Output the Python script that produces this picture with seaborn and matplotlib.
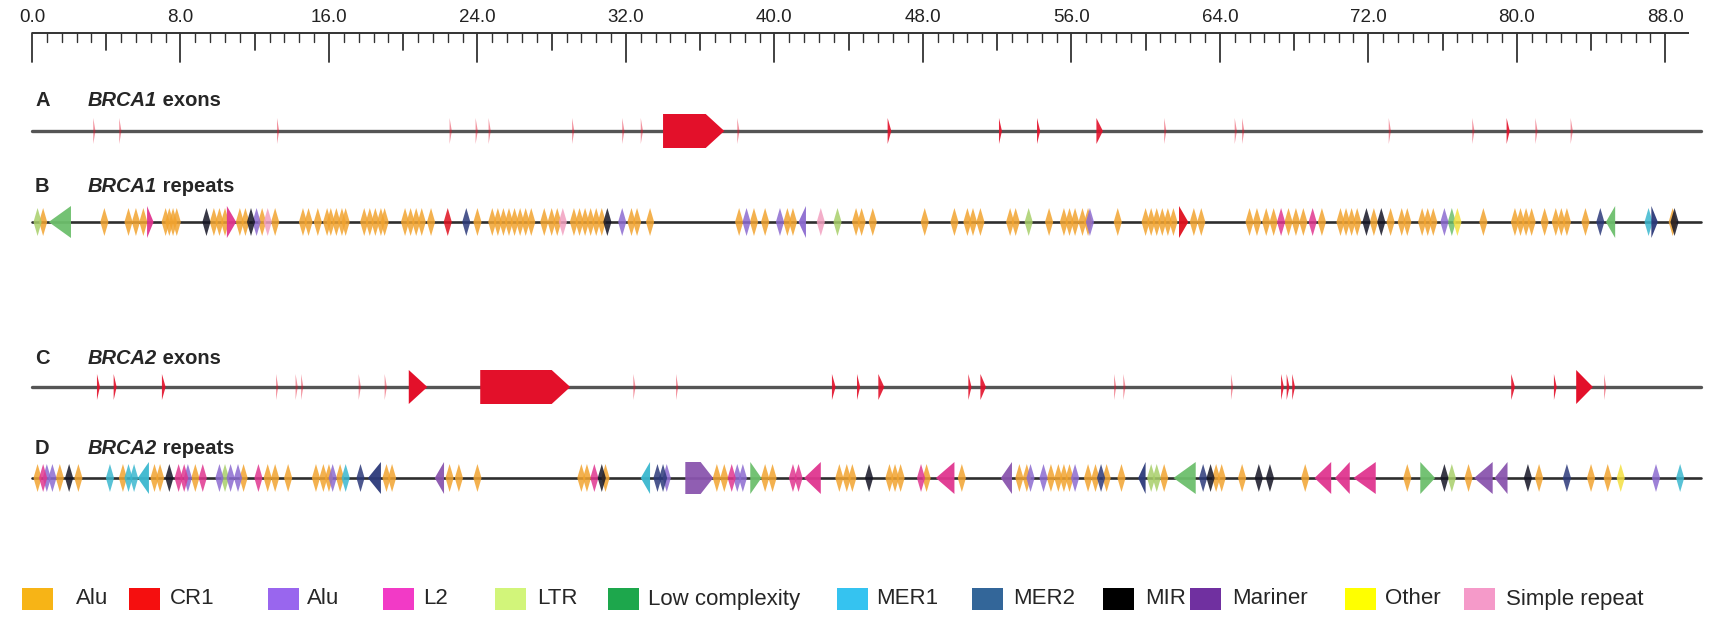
import numpy as np
import pandas as pd
import matplotlib
matplotlib.use('Agg')
import matplotlib.pyplot as plt
from matplotlib.patches import Polygon, Rectangle
import seaborn as sns

sns.set_theme(style='white')
plt.rcParams['font.family'] = ['Liberation Sans', 'DejaVu Sans']

# ---------------- ruler / gene region (kb) ----------------
RULER_END = 89.3
TRACK_END = 89.9
RULER_LABELS = np.arange(0, 88.1, 8.0)

# ---------------- exons (kb) ----------------
A_EXON_START = [3.3, 4.7, 13.2, 22.5, 23.9, 24.6, 29.1, 31.8, 32.8, 34.0, 38.0, 46.1, 52.1, 54.15,
                57.35, 61.0, 64.8, 65.2, 73.1, 77.6, 79.45, 81.0, 82.9]
A_EXON_END = [3.42, 4.82, 13.32, 22.62, 24.02, 24.72, 29.22, 31.92, 32.92, 37.3, 38.12, 46.3, 52.26, 54.32,
              57.7, 61.12, 64.92, 65.32, 73.22, 77.72, 79.62, 81.12, 83.02]

C_EXON_START = [3.5, 4.4, 7.0, 13.15, 14.2, 14.5, 17.6, 19.0, 20.3, 24.15, 32.4, 34.7, 43.1, 44.45,
                45.6, 50.45, 51.1, 58.3, 58.8, 64.6, 67.3, 67.6, 67.9, 79.7, 82.0, 83.2, 84.7]
C_EXON_END = [3.66, 4.56, 7.2, 13.27, 14.32, 14.62, 17.72, 19.12, 21.3, 29.0, 32.52, 34.82, 43.3, 44.62,
              45.92, 50.62, 51.4, 58.42, 58.92, 64.72, 67.45, 67.75, 68.05, 79.9, 82.15, 84.1, 84.82]

# ---------------- BRCA1 repeats (kb) ----------------
B_ALU = [0.6, 3.9, 5.2, 5.6, 6.0, 7.2, 7.4, 7.6, 7.8, 9.8, 10.1, 10.4, 11.2, 11.5, 12.4, 13.1, 14.6, 14.9,
         15.4, 15.9, 16.1, 16.4, 16.7, 16.9, 17.9, 18.2, 18.5, 18.8, 19.0, 20.1, 20.4, 20.7, 21.0, 21.5,
         24.0, 24.8, 25.1, 25.4, 25.7, 26.0, 26.3, 26.6, 26.9, 27.6, 28.0, 28.3, 29.2, 29.5, 29.8, 30.1,
         30.4, 30.7, 32.3, 32.6, 33.3, 38.1, 38.9, 39.5, 40.7, 41.0, 44.4, 44.7, 45.3, 48.1, 49.7, 50.4,
         50.7, 51.1, 52.7, 53.0, 54.8, 55.6, 55.9, 56.2, 56.6, 56.9, 58.5, 60.0, 60.3, 60.6, 60.9, 61.2,
         61.5, 62.6, 63.0, 65.6, 66.0, 66.5, 66.9, 67.7, 68.1, 68.5, 69.5, 70.5, 70.8, 71.1, 71.4, 72.3,
         73.2, 73.8, 74.1, 74.9, 75.2, 75.5, 78.2, 79.9, 80.2, 80.5, 80.8, 81.5, 82.1, 82.4, 82.7, 83.7,
         88.4]
B_ALU2 = [12.1, 31.8, 38.5, 40.3, 57.0, 76.1]
B_MIR = [9.4, 11.8, 31.0, 71.9, 72.7, 88.5]
B_MER2 = [23.4, 84.5]
B_MER1 = [87.1]
B_L2 = [67.3, 69.0]
B_CR1 = [22.4]
B_SIMPLE = [12.7, 28.6, 42.5]
B_LTR = [0.3, 43.4, 53.7]
B_OTHER = [76.8]
B_LOWC = [76.5]

B_BIG_START = [0.9, 6.2, 10.5, 41.3, 61.8, 84.8, 87.25]
B_BIG_END = [2.1, 6.55, 11.0, 41.7, 62.3, 85.3, 87.6]
B_BIG_TYPE = ['Low complexity', 'L2', 'L2', 'Alu2', 'CR1', 'Low complexity', 'MER2']
B_BIG_DIR = [-1, 1, 1, -1, 1, -1, 1]

# ---------------- BRCA2 repeats (kb) ----------------
D_ALU = [0.3, 1.5, 2.5, 4.9, 6.6, 6.9, 8.8, 11.4, 12.7, 13.1, 13.8, 15.3, 15.7, 16.0, 16.6, 19.1, 19.4,
         22.5, 23.0, 24.0, 29.6, 29.9, 30.9, 36.9, 37.3, 39.5, 39.9, 43.5, 43.9, 44.2, 46.2, 46.5, 46.8,
         48.2, 50.1, 53.2, 53.6, 54.9, 55.3, 55.6, 55.9, 56.9, 57.3, 57.9, 58.7, 61.0, 63.8, 64.1, 65.2,
         68.6, 74.1, 77.4, 81.2, 84.0, 84.9]
D_ALU2 = [0.8, 1.1, 8.4, 10.1, 10.7, 11.1, 16.2, 34.2, 38.0, 38.3, 53.8, 54.5, 56.2, 87.5]
D_L2 = [0.6, 7.9, 8.2, 9.2, 12.2, 30.3, 37.7, 41.0, 41.3, 47.9]
D_MIR = [2.0, 7.4, 30.7, 45.1, 63.5, 66.1, 66.7, 76.1, 80.6]
D_MER2 = [17.7, 33.7, 34.0, 57.6, 63.1, 82.7]
D_MER1 = [4.2, 5.2, 5.5, 16.9, 88.8]
D_LTR = [10.4, 60.3, 60.6, 76.5]
D_OTHER = [85.6]

D_BIG_START = [5.7, 18.1, 21.7, 32.8, 35.2, 38.7, 41.6, 48.7, 52.2, 59.6, 61.5, 69.1, 70.2, 71.2, 74.8, 77.7, 78.8]
D_BIG_END = [6.3, 18.8, 22.2, 33.3, 36.7, 39.3, 42.5, 49.7, 52.8, 60.0, 62.7, 70.0, 71.0, 72.4, 75.6, 78.7, 79.5]
D_BIG_TYPE = ['MER1', 'MER2', 'Mariner', 'MER1', 'Mariner', 'Low complexity', 'L2', 'L2', 'Mariner', 'MER2',
              'Low complexity', 'L2', 'L2', 'L2', 'Low complexity', 'Mariner', 'Mariner']
D_BIG_DIR = [-1, -1, -1, -1, 1, 1, -1, -1, -1, -1, -1, -1, -1, -1, 1, -1, -1]

# ---------------- legend ----------------
LEGEND_KEYS = ['Alu', 'CR1', 'Alu2', 'L2', 'LTR', 'Low complexity', 'MER1', 'MER2', 'MIR', 'Mariner', 'Other', 'Simple repeat']
LEGEND_LABELS = ['Alu', 'CR1', 'Alu', 'L2', 'LTR', 'Low complexity', 'MER1', 'MER2', 'MIR', 'Mariner', 'Other', 'Simple repeat']
LEGEND_COLORS = sns.color_palette(['#F7B416', '#F50F0F', '#9966EE', '#F23AC6', '#D2F57A', '#1DA74C',
                                   '#35C3F0', '#336699', '#000000', '#7030A0', '#FFFF00', '#F59AC9'])
# colours as they look on the (blurred) tracks
TRACK_COLORS = dict(zip(LEGEND_KEYS, sns.color_palette(['#F2A430', '#E0101E', '#8C6BD0', '#E0368F', '#A8CF6A', '#6DBF6C',
                                                        '#3BB8CF', '#2C3A7A', '#151525', '#8A55AE', '#F4E040', '#F2A0C0'])))

# ---------------- layout (pixels) ----------------
W, H = 1717, 617
X0_PX, PX_PER_KB = 32, 18.56
RULER_Y = 33
TRACK_Y = {'A': 131, 'B': 222, 'C': 387, 'D': 478}
LABEL_Y = {'A': 101, 'B': 186, 'C': 358, 'D': 448}
LEGEND_Y = 599
LEGEND_SQ_X = [22, 129, 268, 383, 495, 608, 837, 972, 1103, 1190, 1345, 1464]
LEGEND_TXT_X = [76, 170, 307, 423, 537, 648, 876, 1013, 1145, 1232, 1385, 1506]


def glyph(ax, s, e, y, h, head, direction, color, alpha=1.0):
    length = e - s
    hl = min(head, length)
    if direction > 0:
        pts = [(s, y - h), (e - hl, y - h), (e, y), (e - hl, y + h), (s, y + h)]
    else:
        pts = [(e, y - h), (s + hl, y - h), (s, y), (s + hl, y + h), (e, y + h)]
    ax.add_patch(Polygon(pts, closed=True, facecolor=color, edgecolor='none', alpha=alpha, zorder=3))


def spindle(ax, p, y, h, w, color, alpha=0.85):
    pts = [(p - w / 2, y), (p, y - h), (p + w / 2, y), (p, y + h)]
    ax.add_patch(Polygon(pts, closed=True, facecolor=color, edgecolor='none', alpha=alpha, zorder=2))


fig = plt.figure(figsize=(W / 100, H / 100), dpi=100)
ax = fig.add_axes([0, 0, 1, 1])

# ruler
ax.plot([0, RULER_END], [RULER_Y, RULER_Y], color='#333333', lw=1.4, solid_capstyle='butt')
ticks = np.arange(0, 88.01, 0.8)
for i, t in enumerate(ticks):
    if i % 10 == 0:
        yb = 62
    elif i % 5 == 0:
        yb = 50
    else:
        yb = 42
    ax.plot([t, t], [RULER_Y, yb], color='#333333', lw=1.3 if i % 5 == 0 else 1.0)
for v in RULER_LABELS:
    ax.text(v, 17, f'{v:.1f}', ha='center', va='center', fontsize=13.5, color='#222222')

# track baselines
base = pd.DataFrame({'kb': [0, TRACK_END] * 4,
                     'y': [TRACK_Y[k] for k in 'ABCD' for _ in range(2)],
                     'track': [k for k in 'ABCD' for _ in range(2)]})
for k in 'ABCD':
    sub = base[base['track'] == k]
    sns.lineplot(data=sub, x='kb', y='y', ax=ax, color='#555555' if k in 'AC' else '#2e2e2e',
                 lw=2.4 if k in 'AC' else 1.9, zorder=1, legend=False)

# exons
for track, starts, ends in [('A', A_EXON_START, A_EXON_END), ('C', C_EXON_START, C_EXON_END)]:
    y = TRACK_Y[track]
    for s, e in zip(starts, ends):
        ln = e - s
        h = 17 if ln > 0.5 else 13
        alpha = 0.45 if ln < 0.14 else (0.9 if ln < 0.4 else 1.0)
        glyph(ax, s, e, y, h, 1.0, 1, '#E3102A', alpha)

# repeats
small_b = [('Alu', B_ALU), ('Low complexity', B_LOWC), ('LTR', B_LTR), ('Simple repeat', B_SIMPLE),
           ('Alu2', B_ALU2), ('L2', B_L2), ('CR1', B_CR1), ('Other', B_OTHER), ('MER1', B_MER1),
           ('MER2', B_MER2), ('MIR', B_MIR)]
small_d = [('Alu', D_ALU), ('LTR', D_LTR), ('Other', D_OTHER), ('Alu2', D_ALU2), ('L2', D_L2),
           ('MER1', D_MER1), ('MER2', D_MER2), ('MIR', D_MIR)]
for track, small, bs, be, bt, bd in [('B', small_b, B_BIG_START, B_BIG_END, B_BIG_TYPE, B_BIG_DIR),
                                     ('D', small_d, D_BIG_START, D_BIG_END, D_BIG_TYPE, D_BIG_DIR)]:
    y = TRACK_Y[track]
    for key, pos in small:
        for p in pos:
            spindle(ax, p, y, 14, 0.44, TRACK_COLORS[key])
    for s, e, t, d in zip(bs, be, bt, bd):
        ln = e - s
        head = ln if ln <= 1.25 else 0.45 * ln
        glyph(ax, s, e, y, 16, head, d, TRACK_COLORS[t], 0.95)

ax.set_xlim(-X0_PX / PX_PER_KB, (W - X0_PX) / PX_PER_KB)
ax.set_ylim(H, 0)
ax.axis('off')

# track labels
TRACKS = [('A', 'BRCA1', ' exons'), ('B', 'BRCA1', ' repeats'), ('C', 'BRCA2', ' exons'), ('D', 'BRCA2', ' repeats')]
for letter, gene, word in TRACKS:
    y = 1 - LABEL_Y[letter] / H
    fig.text(35 / W, y, letter, fontsize=14.5, fontweight='bold', va='center', ha='left')
    g = fig.text(88 / W, y, gene, fontsize=14.5, fontweight='bold', fontstyle='italic', va='center', ha='left')
    ax.annotate(word, xy=(1, 0), xycoords=g, va='bottom', ha='left', fontsize=14.5, fontweight='bold')

# legend
for sx, tx, lab, col in zip(LEGEND_SQ_X, LEGEND_TXT_X, LEGEND_LABELS, LEGEND_COLORS):
    fig.patches.append(Rectangle((sx / W, 1 - (LEGEND_Y + 11) / H), 31 / W, 22 / H,
                                 transform=fig.transFigure, facecolor=col, edgecolor='none'))
    fig.text(tx / W, 1 - LEGEND_Y / H, lab, fontsize=16, va='center', ha='left')

fig.savefig('out.png', dpi=100, facecolor='white')
